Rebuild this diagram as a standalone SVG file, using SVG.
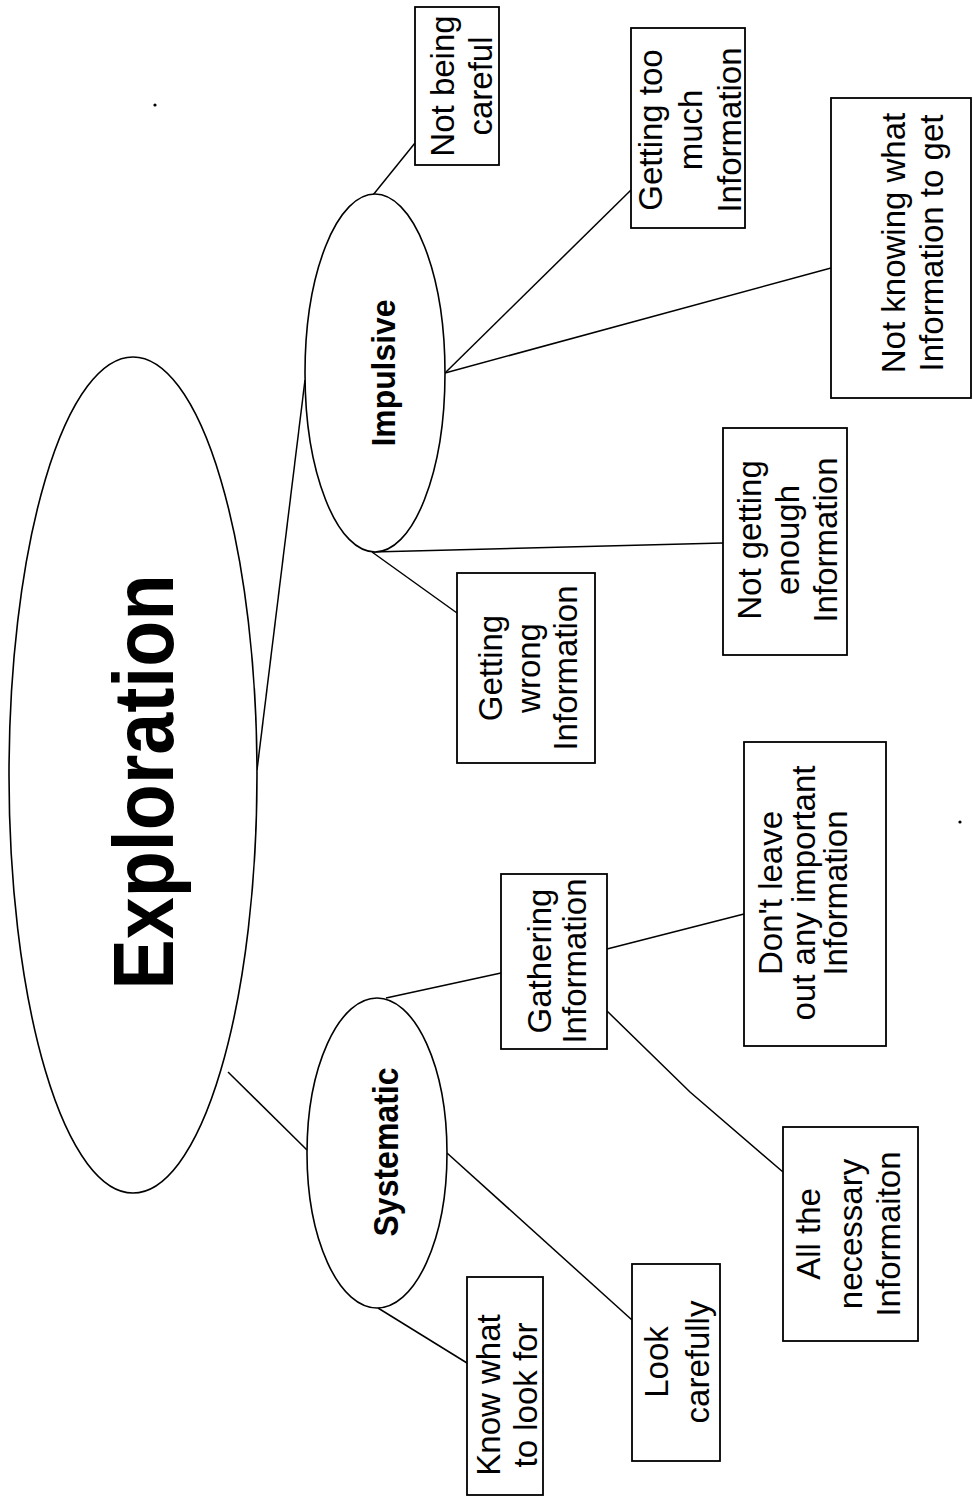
<svg xmlns="http://www.w3.org/2000/svg" width="973" height="1497" viewBox="0 0 973 1497">
  <style>
    .bg { fill: #ffffff; }
    .oval { fill: #ffffff; stroke: #000000; stroke-width: 1.6; }
    .box { fill: #ffffff; stroke: #000000; stroke-width: 1.8; }
    .link { fill: none; stroke: #000000; stroke-width: 1.5; }
    .title { font-family: "Liberation Sans", "DejaVu Sans", sans-serif; font-weight: bold; fill: #000000; text-anchor: middle; }
    .label { font-family: "Liberation Sans", "DejaVu Sans", sans-serif; font-size: 33px; fill: #000000; text-anchor: middle; }
    .speck { fill: #000000; }
  </style>

  <rect class="bg" x="0" y="0" width="973" height="1497"/>

  <!-- connectors -->
  <g id="connectors">
    <line class="link" x1="257" y1="770" x2="305" y2="380"/>
    <line class="link" x1="228" y1="1072" x2="307" y2="1150"/>
    <line class="link" x1="373" y1="195" x2="415" y2="143"/>
    <line class="link" x1="445" y1="373" x2="631" y2="190"/>
    <line class="link" x1="445" y1="373" x2="831" y2="268"/>
    <line class="link" x1="372" y1="552" x2="457" y2="613"/>
    <line class="link" x1="372" y1="552" x2="723" y2="543"/>
    <line class="link" x1="386" y1="998" x2="501" y2="973"/>
    <line class="link" x1="607" y1="949" x2="744" y2="914"/>
    <polyline class="link" points="607,1011 690,1092 783,1172"/>
    <line class="link" x1="447" y1="1153" x2="632" y2="1320"/>
    <line class="link" x1="378" y1="1308" x2="467" y2="1363"/>
  </g>

  <!-- central topic -->
  <g id="exploration">
    <ellipse class="oval" cx="133" cy="775" rx="124" ry="418"/>
    <text class="title" transform="translate(173,782) rotate(-90)" font-size="86" textLength="415" lengthAdjust="spacingAndGlyphs">Exploration</text>
  </g>

  <!-- first level -->
  <g id="impulsive">
    <ellipse class="oval" cx="375" cy="373" rx="70" ry="179"/>
    <text class="title" transform="translate(395,373) rotate(-90)" font-size="34" textLength="147" lengthAdjust="spacingAndGlyphs">Impulsive</text>
  </g>
  <g id="systematic">
    <ellipse class="oval" cx="377" cy="1153" rx="70" ry="155"/>
    <text class="title" transform="translate(398,1152) rotate(-90)" font-size="35" textLength="169" lengthAdjust="spacingAndGlyphs">Systematic</text>
  </g>

  <!-- impulsive branches -->
  <g id="not-being-careful">
    <rect class="box" x="415" y="7" width="84" height="158"/>
    <g transform="translate(0,86) rotate(-90)">
      <text class="label" x="0" y="454">Not being</text>
      <text class="label" x="0" y="492">careful</text>
    </g>
  </g>
  <g id="getting-too-much">
    <rect class="box" x="631" y="28" width="114" height="200"/>
    <g transform="translate(0,130) rotate(-90)">
      <text class="label" x="0" y="662">Getting too</text>
      <text class="label" x="0" y="702">much</text>
      <text class="label" x="0" y="741">Information</text>
    </g>
  </g>
  <g id="not-knowing-what">
    <rect class="box" x="831" y="98" width="140" height="300"/>
    <g transform="translate(0,243) rotate(-90)">
      <text class="label" x="0" y="905">Not knowing what</text>
      <text class="label" x="0" y="943">Information to get</text>
    </g>
  </g>
  <g id="not-getting-enough">
    <rect class="box" x="723" y="428" width="124" height="227"/>
    <g transform="translate(0,540) rotate(-90)">
      <text class="label" x="0" y="761">Not getting</text>
      <text class="label" x="0" y="799">enough</text>
      <text class="label" x="0" y="837">Information</text>
    </g>
  </g>
  <g id="getting-wrong">
    <rect class="box" x="457" y="573" width="138" height="190"/>
    <g transform="translate(0,668) rotate(-90)">
      <text class="label" x="0" y="502">Getting</text>
      <text class="label" x="0" y="540">wrong</text>
      <text class="label" x="0" y="577">Information</text>
    </g>
  </g>

  <!-- systematic branches -->
  <g id="gathering-information">
    <rect class="box" x="501" y="874" width="106" height="175"/>
    <g transform="translate(0,961) rotate(-90)">
      <text class="label" x="0" y="551">Gathering</text>
      <text class="label" x="0" y="586">Information</text>
    </g>
  </g>
  <g id="dont-leave-out">
    <rect class="box" x="744" y="742" width="142" height="304"/>
    <g transform="translate(0,893) rotate(-90)">
      <text class="label" x="0" y="782" font-size="30">Don't leave</text>
      <text class="label" x="0" y="815" font-size="30">out any important</text>
      <text class="label" x="0" y="847" font-size="30">Information</text>
    </g>
  </g>
  <g id="all-necessary">
    <rect class="box" x="783" y="1127" width="135" height="214"/>
    <g transform="translate(0,1234) rotate(-90)">
      <text class="label" x="0" y="820">All the</text>
      <text class="label" x="0" y="862">necessary</text>
      <text class="label" x="0" y="900">Informaiton</text>
    </g>
  </g>
  <g id="look-carefully">
    <rect class="box" x="632" y="1264" width="88" height="197"/>
    <g transform="translate(0,1362) rotate(-90)">
      <text class="label" x="0" y="668">Look</text>
      <text class="label" x="0" y="709">carefully</text>
    </g>
  </g>
  <g id="know-what">
    <rect class="box" x="467" y="1277" width="76" height="218"/>
    <g transform="translate(0,1395) rotate(-90)">
      <text class="label" x="0" y="500">Know what</text>
      <text class="label" x="0" y="537">to look for</text>
    </g>
  </g>

  <!-- stray marks -->
  <circle class="speck" cx="155" cy="105" r="1.6"/>
  <circle class="speck" cx="960" cy="822" r="1.6"/>
</svg>
